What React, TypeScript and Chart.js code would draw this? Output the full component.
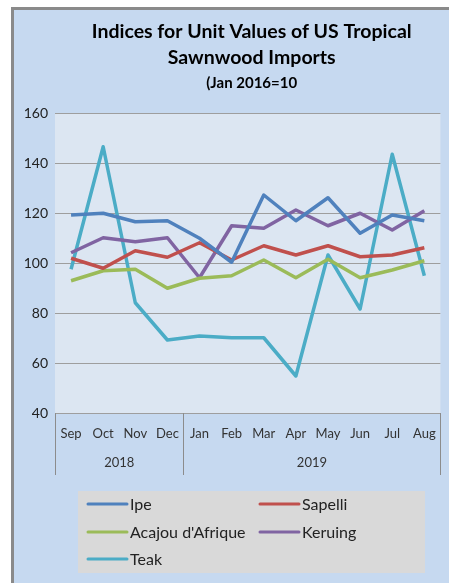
import React, { useEffect, useRef } from "react";
import { Chart, registerables } from "chart.js";

Chart.register(...registerables);

const months = ["Sep", "Oct", "Nov", "Dec", "Jan", "Feb", "Mar", "Apr", "May", "Jun", "Jul", "Aug"];
const years = [
  { label: "2018", from: 0, to: 3 },
  { label: "2019", from: 4, to: 11 },
];
const titleLines = ["Indices for Unit Values of US Tropical", "Sawnwood Imports"];
const subtitle = "(Jan 2016=10";

const ipe = [119.2, 119.9, 116.5, 116.9, 109.9, 100.3, 127.2, 116.9, 126.1, 111.9, 119.2, 116.9];
const sapelli = [101.9, 97.9, 104.9, 102.3, 108.1, 101.2, 106.9, 103.2, 106.9, 102.5, 103.2, 106.1];
const acajou = [92.9, 96.9, 97.5, 89.9, 93.9, 94.9, 101.2, 94.1, 101.5, 94.1, 97.2, 100.9];
const keruing = [104.1, 110.1, 108.5, 110.1, 94.1, 114.9, 113.9, 121.2, 114.9, 119.9, 113.2, 120.9];
const teak = [97.5, 146.5, 84.1, 69.2, 70.8, 70.1, 70.1, 54.8, 103.2, 81.6, 143.5, 94.9];

const FONT = "Lato, 'Liberation Sans', sans-serif";

const decorPlugin = {
  id: "decor",
  beforeDraw(chart: any) {
    const { ctx, chartArea: a } = chart;
    ctx.save();
    ctx.fillStyle = "#dce6f2";
    ctx.fillRect(a.left, a.top, a.right - a.left, a.bottom - a.top);
    ctx.restore();
  },
  afterDraw(chart: any) {
    const { ctx, chartArea: a, scales } = chart;
    const x = scales.x;
    const cx = (a.left + a.right) / 2 + 4;
    ctx.save();
    // title
    ctx.fillStyle = "#000";
    ctx.textAlign = "center";
    ctx.textBaseline = "middle";
    ctx.font = `bold 19.5px ${FONT}`;
    ctx.fillText(titleLines[0], cx, 22);
    ctx.fillText(titleLines[1], cx, 48);
    ctx.font = `bold 15px ${FONT}`;
    ctx.fillText(subtitle, cx, 73);

    // year separators and labels
    const step = x.getPixelForValue(1) - x.getPixelForValue(0);
    ctx.strokeStyle = "#8c8c8c";
    ctx.lineWidth = 1;
    const bottom = a.bottom + 62;
    const seps: number[] = [];
    years.forEach((yr, i) => {
      const l = x.getPixelForValue(yr.from) - step / 2;
      const r = x.getPixelForValue(yr.to) + step / 2;
      if (i === 0) seps.push(l);
      seps.push(r);
      ctx.fillStyle = "#333";
      ctx.font = `13px ${FONT}`;
      ctx.fillText(yr.label, (l + r) / 2, a.bottom + 50);
    });
    seps.forEach((sx) => {
      const px = Math.round(sx) + 0.5;
      ctx.beginPath();
      ctx.moveTo(px, a.bottom);
      ctx.lineTo(px, bottom);
      ctx.stroke();
    });

    // legend
    const lx = 64, ly = 481, lw = 347, lh = 82;
    ctx.fillStyle = "#d9d9d9";
    ctx.fillRect(lx, ly, lw, lh);
    const cols = [74, 246];
    const rows = [494, 522, 549];
    ctx.textAlign = "left";
    ctx.font = `16px ${FONT}`;
    chart.data.datasets.forEach((ds: any, i: number) => {
      const c = cols[i % 2];
      const r = rows[Math.floor(i / 2)];
      ctx.strokeStyle = ds.borderColor;
      ctx.lineWidth = 3;
      ctx.lineCap = "round";
      ctx.beginPath();
      ctx.moveTo(c, r);
      ctx.lineTo(c + 39, r);
      ctx.stroke();
      ctx.fillStyle = "#222";
      ctx.fillText(ds.label, c + 42, r + 1);
    });
    ctx.restore();
  },
};

export default function App() {
  const ref = useRef<HTMLCanvasElement>(null);
  useEffect(() => {
    if (!ref.current) return;
    const mk = (label: string, data: number[], color: string) => ({
      label,
      data,
      borderColor: color,
      backgroundColor: color,
      borderWidth: 3.5,
      pointRadius: 0,
      tension: 0,
      borderJoinStyle: "round" as const,
    });
    const chart = new Chart(ref.current, {
      type: "line",
      data: {
        labels: months,
        datasets: [
          mk("Ipe", ipe, "#4f81bd"),
          mk("Sapelli", sapelli, "#c0504d"),
          mk("Acajou d'Afrique", acajou, "#9bbb59"),
          mk("Keruing", keruing, "#8064a2"),
          mk("Teak", teak, "#4bacc6"),
        ],
      },
      options: {
        animation: false,
        responsive: false,
        layout: { padding: { top: 103, left: 0, right: 8, bottom: 110 } },
        plugins: { legend: { display: false }, tooltip: { enabled: false } },
        scales: {
          x: {
            offset: true,
            grid: { display: false, drawTicks: false },
            border: { display: false },
            ticks: { color: "#333", font: { family: FONT, size: 13 }, padding: 13, maxRotation: 0, autoSkip: false },
            afterFit: (s: any) => { s.height = 60; },
          },
          y: {
            min: 40,
            max: 160,
            ticks: { stepSize: 20, color: "#222", font: { family: FONT, size: 14 }, padding: 7 },
            grid: { color: "#9e9e9e", lineWidth: 1, drawTicks: false },
            border: { display: false },
            afterFit: (s: any) => { s.width = 41; },
          },
        },
      },
      plugins: [decorPlugin],
    });
    return () => chart.destroy();
  }, []);
  return (
    <div
      style={{
        position: "fixed",
        left: 11,
        top: 7,
        width: 438,
        height: 576,
        borderLeft: "3px solid #8a8a8a",
        borderTop: "3px solid #8a8a8a",
        background: "#c6d9f0",
        boxSizing: "border-box",
      }}
    >
      <canvas ref={ref} width={435} height={573} style={{ display: "block" }} />
    </div>
  );
}
